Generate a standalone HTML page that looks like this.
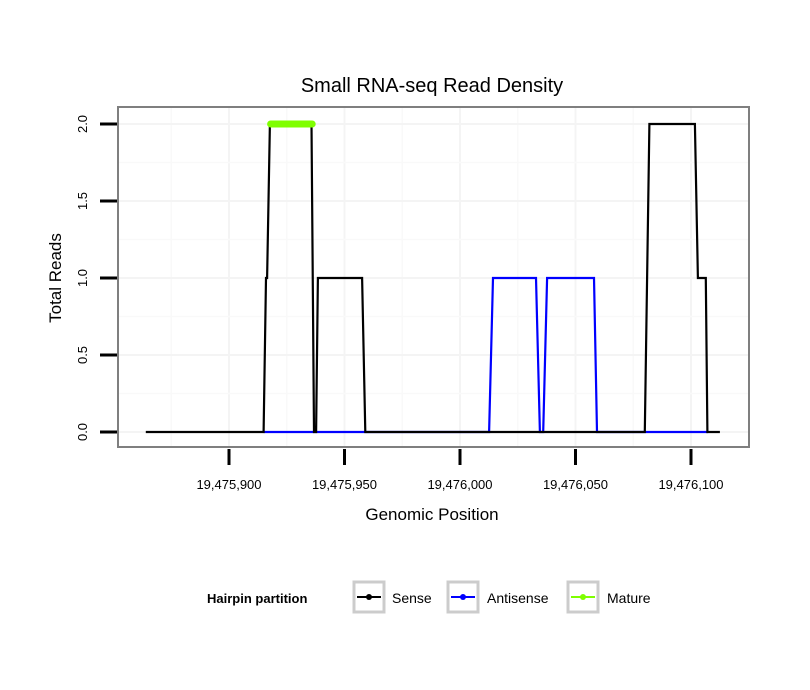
<!DOCTYPE html>
<html><head><meta charset="utf-8"><style>
body{margin:0;background:#fff;}
svg{display:block;font-family:"Liberation Sans",sans-serif;}
</style></head><body>
<svg id="chart" width="810" height="690">
<text x="432" y="92" font-size="20" text-anchor="middle">Small RNA-seq Read Density</text>
<g id="grid"></g>
<g id="series"></g>
<rect x="118" y="107" width="631" height="340" fill="none" stroke="#7f7f7f" stroke-width="2"/>
<g id="axes"></g>
<text x="432" y="520" font-size="17" text-anchor="middle">Genomic Position</text>
<text transform="translate(61,278) rotate(-90)" font-size="17" text-anchor="middle">Total Reads</text>
<g>
<text x="207" y="603" font-size="13" font-weight="bold">Hairpin partition</text>
<g><rect x="354" y="582" width="30" height="30" fill="#fff" stroke="#cccccc" stroke-width="3"/><line x1="357" y1="597" x2="381" y2="597" stroke="#000" stroke-width="2"/><circle cx="369" cy="597" r="3" fill="#000"/><text x="392" y="603" font-size="14">Sense</text></g>
<g><rect x="448" y="582" width="30" height="30" fill="#fff" stroke="#cccccc" stroke-width="3"/><line x1="451" y1="597" x2="475" y2="597" stroke="#0000ff" stroke-width="2"/><circle cx="463" cy="597" r="3" fill="#0000ff"/><text x="487" y="603" font-size="14">Antisense</text></g>
<g><rect x="568" y="582" width="30" height="30" fill="#fff" stroke="#cccccc" stroke-width="3"/><line x1="571" y1="597" x2="595" y2="597" stroke="#7fff00" stroke-width="2"/><circle cx="583" cy="597" r="3" fill="#7fff00"/><text x="607" y="603" font-size="14">Mature</text></g>
</g>
</svg>
<script>
const senseX=[19475864,19475915,19475916,19475916.5,19475917.7,19475935.7,19475936.8,19475937.7,19475938.5,19475957.6,19475959,19476080,19476082,19476101.7,19476103,19476106.4,19476107.1,19476112.5];
const senseY=[0,0,1,1,2,2,0,0,1,1,0,0,2,2,1,1,0,0];
const antiX=[19475915,19476012.6,19476014.3,19476032.9,19476034.6,19476036,19476037.7,19476058,19476059.3,19476107.4];
const antiY=[0,0,1,1,0,0,1,1,0,0];
const matureX=[19475918,19475936];
const matureY=[2,2];
const xTicks=[19475900,19475950,19476000,19476050,19476100];
const xTickLabels=["19,475,900","19,475,950","19,476,000","19,476,050","19,476,100"];
const yTicks=[0,0.5,1,1.5,2];
const yTickLabels=["0.0","0.5","1.0","1.5","2.0"];
const xs=v=>229+(v-19475900)*2.31;
const ys=v=>432-v*154;
const NS="http://www.w3.org/2000/svg";
function mk(tag,attrs,parent){const e=document.createElementNS(NS,tag);for(const k in attrs)e.setAttribute(k,attrs[k]);parent.appendChild(e);return e;}
const grid=document.getElementById('grid'),series=document.getElementById('series'),axes=document.getElementById('axes');
for(let i=0;i<xTicks.length;i++){
  const x=xs(xTicks[i]);
  const g=mk('line',{x1:x,x2:x,y1:108,y2:446,stroke:'#f4f4f4','stroke-width':2},grid);
  
  const m=xs(xTicks[i]-25);
  const gm=mk('line',{x1:m,x2:m,y1:108,y2:446,stroke:'#f9f9f9','stroke-width':1.5},grid);
  
  const t=mk('line',{x1:x,x2:x,y1:449,y2:465,stroke:'#000','stroke-width':3},axes);
  
  const l=mk('text',{x:x,y:489,'font-size':13,'text-anchor':'middle'},axes);
  l.textContent=xTickLabels[i];
  
}
for(let i=0;i<yTicks.length;i++){
  const y=ys(yTicks[i]);
  const g=mk('line',{x1:119,x2:748,y1:y,y2:y,stroke:'#f4f4f4','stroke-width':2},grid);
  
  if(i<yTicks.length-1){const m=ys(yTicks[i]+0.25);
  const gm=mk('line',{x1:119,x2:748,y1:m,y2:m,stroke:'#f9f9f9','stroke-width':1.5},grid);
  }
  const t=mk('line',{x1:100,x2:117,y1:y,y2:y,stroke:'#000','stroke-width':3},axes);
  
  const l=mk('text',{transform:`translate(87,${y}) rotate(-90)`,'font-size':13,'text-anchor':'middle'},axes);
  l.textContent=yTickLabels[i];
  
}
function path(X,Y,color,w,name){
  const d=X.map((v,i)=>(i?'L':'M')+xs(v).toFixed(1)+','+ys(Y[i]).toFixed(1)).join('');
  const p=mk('path',{d:d,fill:'none',stroke:color,'stroke-width':w,'stroke-linecap':name==='mature-line'?'round':'butt','stroke-linejoin':'miter'},series);
  
}
path(antiX,antiY,'#0000ff',2.2,'antisense-line');
path(senseX,senseY,'#000000',2.2,'sense-line');
path(matureX,matureY,'#7fff00',7,'mature-line');
</script>
</body></html>
